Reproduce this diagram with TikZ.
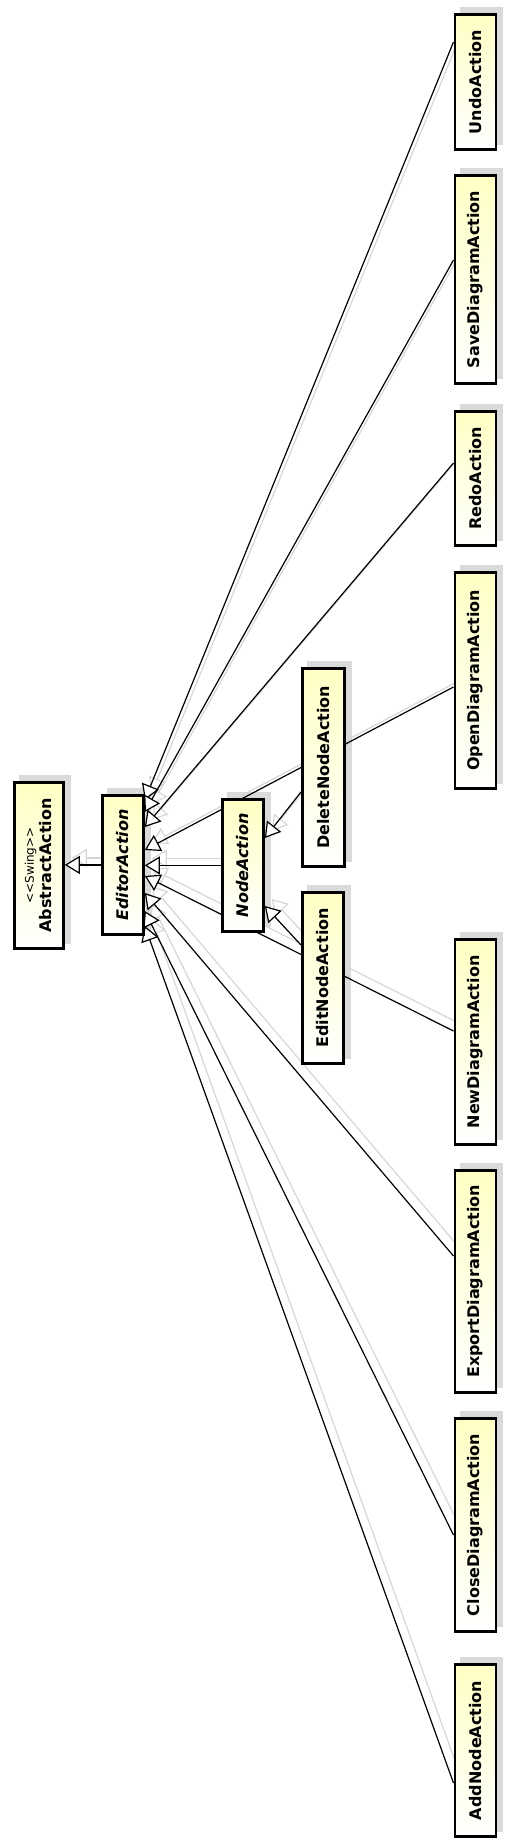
\documentclass[tikz,border=0pt]{standalone}
\usepackage{fontspec}
\setmainfont{DejaVu Sans}
\usetikzlibrary{arrows.meta,calc}
\definecolor{boxtop}{RGB}{255,255,196}
\definecolor{shadowc}{RGB}{218,218,218}
\definecolor{lineshadow}{RGB}{214,214,214}
\pgfdeclarelayer{boxshadow}
\pgfdeclarelayer{grayline}
\pgfdeclarelayer{blackline}
\pgfsetlayers{boxshadow,grayline,blackline,main}
\tikzset{
  cls/.style={draw=black, line width=2.8pt, top color=boxtop, bottom color=white,
    inner sep=0pt, anchor=north west, minimum width=41pt,
    font=\fontsize{16}{18.5}\selectfont\bfseries},
  inh/.style={line width=1.2pt, draw=black, -{Triangle[length=15pt,width=18pt,fill=white]}},
  inhsh/.style={line width=1.2pt, draw=lineshadow, -{Triangle[open,length=15pt,width=18pt]}},
}
\newcommand{\inhline}[2]{%
  \begin{pgfonlayer}{grayline}\draw[inhsh, transform canvas={shift={(7pt,7pt)}}] #1 -- #2;\end{pgfonlayer}%
  \begin{pgfonlayer}{blackline}\draw[inh] #1 -- #2;\end{pgfonlayer}}
\begin{document}
\begin{tikzpicture}[x=1pt,y=-1pt]
\useasboundingbox (0,0) rectangle (508,1848);
% class boxes
\node[cls, minimum width=49pt, minimum height=166pt] (abstract) at (13,781)
  {\rotatebox{90}{\begin{tabular}{@{}c@{}}{\fontsize{12}{14}\selectfont\mdseries <\kern0pt<Swing>\kern0pt>}\\[-1pt] AbstractAction\end{tabular}}};
\node[cls, minimum height=139pt] (editor) at (101,794) {\rotatebox{90}{\itshape EditorAction}};
\node[cls, minimum height=132pt] (nodeact) at (221,798) {\rotatebox{90}{\itshape NodeAction}};
\node[cls, minimum width=42pt, minimum height=198pt] (delete) at (301,667) {\rotatebox{90}{DeleteNodeAction}};
\node[cls, minimum height=171pt] (edit) at (301,891) {\rotatebox{90}{EditNodeAction}};
\node[cls, minimum height=135pt] (undo) at (453.5,13) {\rotatebox{90}{UndoAction}};
\node[cls, minimum height=208pt] (save) at (453.5,174) {\rotatebox{90}{SaveDiagramAction}};
\node[cls, minimum height=134pt] (redo) at (453.5,410) {\rotatebox{90}{RedoAction}};
\node[cls, minimum height=216pt] (open) at (453.5,571) {\rotatebox{90}{OpenDiagramAction}};
\node[cls, minimum height=205pt] (new) at (453.5,938) {\rotatebox{90}{NewDiagramAction}};
\node[cls, minimum height=222pt] (export) at (453.5,1169) {\rotatebox{90}{ExportDiagramAction}};
\node[cls, minimum height=213pt] (close) at (453.5,1417) {\rotatebox{90}{CloseDiagramAction}};
\node[cls, minimum height=172pt] (addnode) at (453.5,1663) {\rotatebox{90}{AddNodeAction}};
% box shadows
\begin{pgfonlayer}{boxshadow}
\foreach \n in {abstract,editor,nodeact,delete,edit,undo,save,redo,open,new,export,close,addnode}{
  \fill[shadowc] ([shift={(6,-6)}]\n.south west) rectangle ([shift={(6,-6)}]\n.north east);
}
\end{pgfonlayer}
% generalization connectors
\inhline{(editor.west)}{(editor.west -| abstract.east)}
\inhline{(nodeact.west)}{(nodeact.west -| editor.east)}
\inhline{($(undo.north west)+(0,29)$)}{($(editor.north east)+(0,6)$)}
\inhline{($(save.north west)+(0,86)$)}{($(editor.north east)+(0,18)$)}
\inhline{($(redo.north west)+(0,53)$)}{($(editor.north east)+(0,33)$)}
\inhline{($(open.north west)+(0,116)$)}{($(editor.north east)+(0,56)$)}
\inhline{($(new.north west)+(0,93)$)}{($(editor.north east)+(0,82)$)}
\inhline{($(export.north west)+(0,87)$)}{($(editor.north east)+(0,99)$)}
\inhline{($(close.north west)+(0,118)$)}{($(editor.north east)+(0,117)$)}
\inhline{($(addnode.north west)+(0,120)$)}{($(editor.north east)+(0,132)$)}
\inhline{($(delete.north west)+(0,125)$)}{($(nodeact.north east)+(0,40)$)}
\inhline{($(edit.north west)+(0,54)$)}{($(nodeact.north east)+(0,108)$)}
\end{tikzpicture}
\end{document}
